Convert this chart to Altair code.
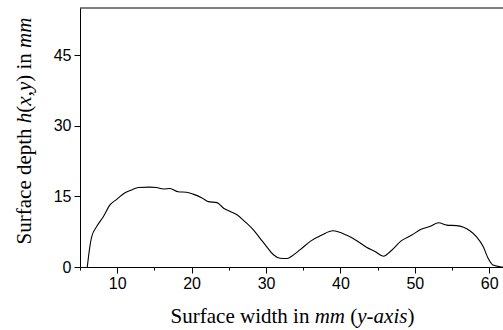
import altair as alt
import pandas as pd

# ---- data ----
width_mm = [5.98, 6.25, 6.57, 7.24, 8.13, 9.03, 9.93, 11.05, 11.95, 12.84, 14.4, 15.3,
            16.2, 17.1, 18.2, 19.3, 20.2, 21.4, 22.25, 23.4, 24.3, 25.2, 26.1, 27.2,
            28.3, 29.2, 30.1, 31.0, 31.9, 32.8, 33.45, 34.6, 36.0, 37.5, 39.0, 40.8,
            42.2, 43.5, 44.65, 45.8, 46.7, 48.2, 49.6, 50.7, 52.0, 53.2, 54.3, 55.6,
            57.4, 58.3, 59.2, 59.85, 60.5, 61.45, 62.0]
depth_mm = [0.0, 3.5, 6.4, 8.6, 10.7, 13.2, 14.4, 15.8, 16.4, 16.9, 17.0, 16.9,
            16.6, 16.7, 16.0, 15.9, 15.5, 14.7, 13.9, 13.7, 12.5, 11.8, 11.1, 9.6,
            7.9, 6.1, 4.3, 2.6, 1.85, 1.8, 2.3, 3.7, 5.5, 6.8, 7.7, 6.8,
            5.6, 4.2, 3.3, 2.3, 3.3, 5.6, 6.8, 7.9, 8.6, 9.4, 8.9, 8.8,
            7.7, 6.4, 4.3, 1.85, 0.4, 0.07, 0.0]

x_ticks = [5, 10, 15, 20, 25, 30, 35, 40, 45, 50, 55, 60]
y_ticks = [0, 7.5, 15, 22.5, 30, 37.5, 45, 52.5]

x_title = [("Surface width in ", False), ("mm", True), (" (", False),
           ("y-axis", True), (")", False)]
y_title = [("Surface depth ", False), ("h", True), ("(", False), ("x", True),
           (",", False), ("y", True), (") in ", False), ("mm", True)]

# ---- layout ----
W, H = 423, 259
PAD_L, PAD_T = 80, 8
XDOM = [5, 61.85]
YDOM = [0, 55.1]
SERIF = "Liberation Serif"
SANS = "Liberation Sans"
TFS = 21
LFS = 16

REG = {" ": 250, "(": 333, ")": 333, ",": 250, "-": 333, "S": 556, "a": 444, "c": 444,
       "d": 500, "e": 444, "f": 333, "h": 500, "i": 278, "n": 500, "p": 500, "r": 333,
       "t": 278, "u": 500, "w": 722, "m": 778, "y": 500, "x": 500, "s": 389}
ITA = {"m": 722, "h": 500, "x": 444, "y": 444, "a": 500, "i": 278, "s": 389, "-": 333,
       ",": 250, " ": 250}


def seg_w(txt, italic):
    tab = ITA if italic else REG
    return sum(tab.get(c, 500) for c in txt) * TFS / 1000.0


df = pd.DataFrame({"w": width_mm, "d": depth_mm})

line = alt.Chart(df).mark_line(color="black", strokeWidth=1.1, clip=True,
                               interpolate="monotone").encode(
    x=alt.X("w:Q", scale=alt.Scale(domain=XDOM, nice=False, zero=False),
            axis=alt.Axis(values=x_ticks, title=None, grid=False,
                          labelExpr="datum.value % 10 == 0 ? datum.label : ''",
                          tickSize={"condition": {"test": "datum.value % 10 != 0", "value": 3}, "value": 6},
                          labelFont=SANS, labelFontSize=LFS, labelColor="black",
                          labelPadding=2, labelFlush=False, labelOverlap=False,
                          domainColor="black", tickColor="black", domainWidth=1, tickWidth=1)),
    y=alt.Y("d:Q", scale=alt.Scale(domain=YDOM, nice=False),
            axis=alt.Axis(values=y_ticks, title=None, grid=False,
                          labelExpr="datum.value % 15 == 0 ? datum.label : ''",
                          tickSize={"condition": {"test": "datum.value % 15 != 0", "value": 3}, "value": 6},
                          labelFont=SANS, labelFontSize=LFS, labelColor="black",
                          labelPadding=3, labelFlush=False, labelOverlap=False,
                          domainColor="black", tickColor="black", domainWidth=1, tickWidth=1)),
)

top = alt.Chart(pd.DataFrame({"d": [YDOM[1]]})).mark_rule(color="black", strokeWidth=1).encode(
    y=alt.Y("d:Q"))

layers = [line, top]
one = pd.DataFrame({"k": [0]})


def text_seg(t, it, **kw):
    return alt.Chart(one).mark_text(text=t, font=SERIF, fontSize=TFS,
                                    fontStyle="italic" if it else "normal",
                                    align="left", baseline="alphabetic",
                                    color="black", **kw)


# x title segments
tot = sum(seg_w(t, i) for t, i in x_title)
cx = 292.5 - PAD_L
base_y = 323 - PAD_T
pos = cx - tot / 2
for t, it in x_title:
    lead = len(t) - len(t.lstrip(" "))
    p = pos + seg_w(t[:lead], it)
    layers.append(text_seg(t.strip(" "), it).encode(x=alt.value(p), y=alt.value(base_y)))
    pos += seg_w(t, it)

# y title segments (rotated)
tot = sum(seg_w(t, i) for t, i in y_title)
cy = 131 - PAD_T
base_x = 31 - PAD_L
pos = cy + tot / 2
for t, it in y_title:
    lead = len(t) - len(t.lstrip(" "))
    p = pos - seg_w(t[:lead], it)
    layers.append(text_seg(t.strip(" "), it, angle=270).encode(x=alt.value(base_x), y=alt.value(p)))
    pos -= seg_w(t, it)

chart = alt.layer(*layers).properties(
    width=W, height=H,
    padding={"left": PAD_L, "top": PAD_T, "right": 0, "bottom": 330 - PAD_T - H},
    autosize=alt.AutoSizeParams(type="none"),
    background="white",
).configure_view(stroke=None)

chart.save("out.html", embed_options={"renderer": "svg", "actions": False})
